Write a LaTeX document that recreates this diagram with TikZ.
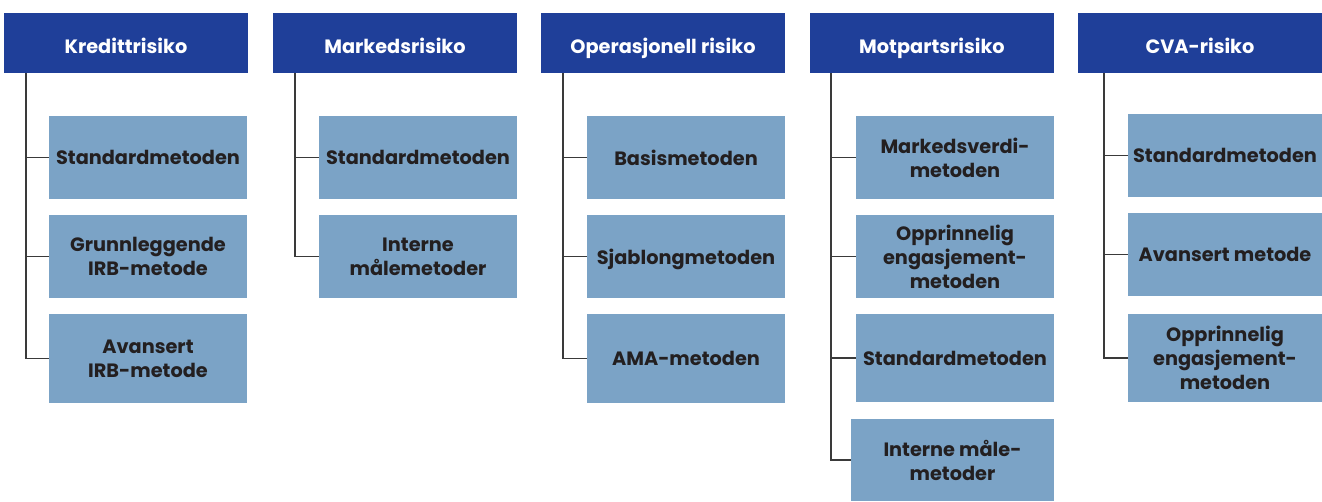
\documentclass[tikz,border=0pt]{standalone}
\usepackage{fontspec}
\setmainfont{Poppins}
\definecolor{hdrblue}{HTML}{1F3F99}
\definecolor{methblue}{HTML}{7BA3C6}
\definecolor{txtdark}{HTML}{231F20}
\definecolor{linegray}{HTML}{3A3A3A}
\begin{document}
\begin{tikzpicture}[
  x=1pt, y=-1pt,
  hdr/.style={rectangle, fill=hdrblue, text=white, minimum width=244pt, minimum height=60pt,
    inner sep=0pt, text height=20pt, text depth=0pt, font=\fontsize{19.3}{24}\selectfont\bfseries},
  meth/.style={rectangle, fill=methblue, text=txtdark, minimum width=198pt, minimum height=83pt,
    inner sep=0pt, align=center, text depth=-6pt, font=\fontsize{19.3}{24}\selectfont\bfseries},
  tall/.style={meth, minimum height=89pt},
  branch/.style={draw=linegray, line width=1.4pt},
]
\useasboundingbox (0,0) rectangle (1322,501);

% --- Kredittrisiko ---
\node[hdr] (k0) at (126, 43) {Kredittrisiko};
\node[meth] (k1) at (148, 157.5) {Standardmetoden};
\node[meth] (k2) at (148, 256.5) {Grunnleggende\\IRB-metode};
\node[tall] (k3) at (148, 358.5) {Avansert\\IRB-metode};
\draw[branch] ([xshift=22]k0.south west) |- (k1.west);
\draw[branch] ([xshift=22]k0.south west) |- (k2.west);
\draw[branch] ([xshift=22]k0.south west) |- (k3.west);

% --- Markedsrisiko ---
\node[hdr] (m0) at (395, 43) {Markedsrisiko};
\node[meth] (m1) at (418, 157.5) {Standardmetoden};
\node[meth] (m2) at (418, 256.5) {Interne\\målemetoder};
\draw[branch] ([xshift=22]m0.south west) |- (m1.west);
\draw[branch] ([xshift=22]m0.south west) |- (m2.west);

% --- Operasjonell risiko ---
\node[hdr] (o0) at (663, 43) {Operasjonell risiko};
\node[meth] (o1) at (686, 157.5) {Basismetoden};
\node[meth] (o2) at (686, 256.5) {Sjablongmetoden};
\node[tall] (o3) at (686, 358.5) {AMA-metoden};
\draw[branch] ([xshift=22]o0.south west) |- (o1.west);
\draw[branch] ([xshift=22]o0.south west) |- (o2.west);
\draw[branch] ([xshift=22]o0.south west) |- (o3.west);

% --- Motpartsrisiko ---
\node[hdr] (p0) at (932, 43) {Motpartsrisiko};
\node[meth] (p1) at (955, 157.5) {Markedsverdi-\\metoden};
\node[meth] (p2) at (955, 256.5) {Opprinnelig\\engasjement-\\metoden};
\node[meth, minimum height=88pt] (p3) at (955, 358) {Standardmetoden};
\node[meth, minimum width=203pt, minimum height=82pt] (p4) at (952.5, 460) {Interne måle-\\metoder};
\draw[branch] ([xshift=21]p0.south west) |- (p1.west);
\draw[branch] ([xshift=21]p0.south west) |- (p2.west);
\draw[branch] ([xshift=21]p0.south west) |- (p3.west);
\draw[branch] ([xshift=21]p0.south west) |- (p4.west);

% --- CVA-risiko ---
\node[hdr] (c0) at (1200, 43) {CVA-risiko};
\node[meth, minimum width=194pt] (c1) at (1225, 155.5) {Standardmetoden};
\node[meth, minimum width=194pt] (c2) at (1225, 254.5) {Avansert metode};
\node[tall, minimum width=194pt, minimum height=88pt] (c3) at (1225, 358) {Opprinnelig\\engasjement-\\metoden};
\draw[branch] ([xshift=26]c0.south west) |- (c1.west);
\draw[branch] ([xshift=26]c0.south west) |- (c2.west);
\draw[branch] ([xshift=26]c0.south west) |- (c3.west);
\end{tikzpicture}
\end{document}
